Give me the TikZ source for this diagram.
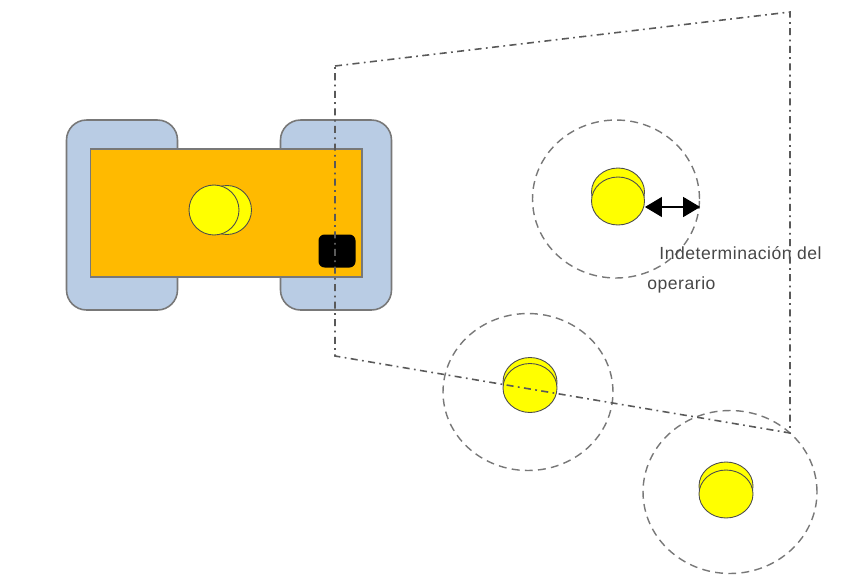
\documentclass[tikz,border=0pt]{standalone}
\usepackage{fontspec}
\setmainfont{Liberation Sans}
\usepackage{xcolor}
\usetikzlibrary{arrows.meta,positioning,shapes.geometric}

\definecolor{naranja}{RGB}{255,186,0}
\definecolor{azulrueda}{RGB}{185,204,228}
\definecolor{grisborde}{RGB}{120,120,120}
\definecolor{amarillo}{RGB}{255,255,0}

\tikzset{
  rueda/.style={draw=grisborde, fill=azulrueda, line width=0.9pt, rounded corners=0.4cm,
    minimum width=2.22cm, minimum height=3.8cm},
  chasis/.style={draw=grisborde, fill=naranja, line width=0.6pt,
    minimum width=5.44cm, minimum height=2.56cm},
  casco/.style={ellipse, draw=black!70, fill=amarillo, line width=0.5pt, inner sep=0pt},
  sensor/.style={fill=black, rounded corners=0.12cm, minimum width=0.74cm, minimum height=0.66cm},
  zona/.style={ellipse, draw=grisborde, line width=0.8pt, dash pattern=on 4.5pt off 3pt},
  campo/.style={draw=black!65, line width=0.9pt, dash pattern=on 4pt off 2.5pt on 1pt off 2.5pt},
  flecha/.style={{Triangle[length=0.34cm,width=0.4cm]}-{Triangle[length=0.34cm,width=0.4cm]}, line width=0.6pt},
  texto/.style={text=black!72, font=\fontsize{10}{12}\selectfont\addfontfeatures{LetterSpace=3}, inner sep=0pt}
}

\begin{document}
\begin{tikzpicture}[x=0.02cm,y=-0.02cm]
\useasboundingbox (0,0) rectangle (851,578);
\node[rueda] (ruedaI) at (122,215) {};
\node[rueda] (ruedaD) at (336,215) {};
\node[chasis] (chasis) at (226,213) {};
\node[casco, minimum width=0.98cm, minimum height=0.98cm] (nucaC) at (227,210) {};
\node[casco, minimum width=1cm, minimum height=1cm] (conductor) at (214,210) {};
\node[sensor] (sensor) at (337,251) {};

\node[zona, minimum width=3.34cm, minimum height=3.16cm] (zona1) at (616,199) {};
\node[zona, minimum width=3.4cm, minimum height=3.14cm] (zona2) at (528,392) {};
\node[zona, minimum width=3.48cm, minimum height=3.26cm] (zona3) at (730,492) {};

\node[casco, minimum width=1.06cm, minimum height=0.96cm] (nuca1) at (618,192) {};
\node[casco, minimum width=1.06cm, minimum height=0.96cm] (operario1) at (618,201) {};
\node[casco, minimum width=1.08cm, minimum height=0.98cm] (nuca2) at (530,382) {};
\node[casco, minimum width=1.08cm, minimum height=0.98cm] (operario2) at (530,388) {};
\node[casco, minimum width=1.08cm, minimum height=0.96cm] (nuca3) at (726,486) {};
\node[casco, minimum width=1.08cm, minimum height=0.96cm] (operario3) at (726,494) {};

\coordinate (base) at ([yshift=-0.12cm]operario1.east);
\draw[flecha] (base) -- (base -| zona1.east);
\node[texto, anchor=west] (etiqueta) at (659,253) {Indeterminación del};
\node[texto, anchor=west] (etiqueta2) at (647,285) {operario};

\draw[campo] (335,66) -- (790,12) -- (790,433) -- (335,356) -- cycle;
\end{tikzpicture}
\end{document}
